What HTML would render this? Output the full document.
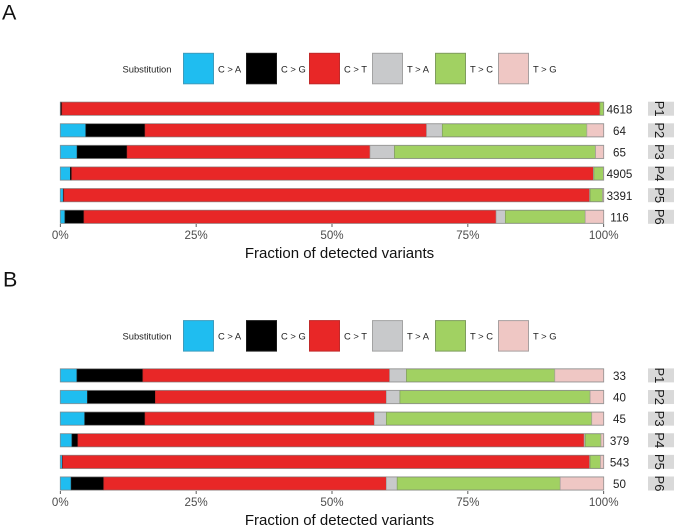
<!DOCTYPE html>
<html>
<head>
<meta charset="utf-8">
<style>
html,body{margin:0;padding:0;background:#fff;}
svg{display:block;font-family:"Liberation Sans",sans-serif;}
</style>
</head>
<body>
<svg id="fig" width="675" height="527" viewBox="0 0 675 527" xmlns="http://www.w3.org/2000/svg"></svg>
<script>
const substitutions = ['C > A','C > G','C > T','T > A','T > C','T > G'];
const patients = ['P1','P2','P3','P4','P5','P6'];
const xTicks = [0,25,50,75,100];
const axisTitle = 'Fraction of detected variants';

// Panel A: percent of detected variants per patient
const aCA = [0.05,4.7,3.1,1.85,0.55,0.86];
const aCG = [0.25,10.9,9.2,0.25,0.1,3.5];
const aCT = [99.0,51.8,44.7,96.0,96.75,75.84];
const aTA = [0.0,2.9,4.5,0.1,0.1,1.7];
const aTC = [0.7,26.6,37.0,1.75,2.3,14.7];
const aTG = [0.0,3.1,1.5,0.05,0.2,3.4];
const aCounts = ['4618','64','65','4905','3391','116'];

// Panel B: percent of detected variants per patient
const bCA = [3.07,5.0,4.5,2.15,0.37,2.0];
const bCG = [12.13,12.5,11.1,1.1,0.06,6.0];
const bCT = [45.4,42.5,42.2,93.15,96.97,52.0];
const bTA = [3.1,2.5,2.2,0.2,0.1,2.0];
const bTC = [27.3,35.0,37.8,2.9,1.9,30.0];
const bTG = [9.0,2.5,2.2,0.5,0.6,8.0];
const bCounts = ['33','40','45','379','543','50'];

const fills = ['#1fbdf0','#000000','#e82727','#c8c9cb','#a1d162','#efc7c4'];
const strokes = ['#3d9cbd','#1a1a1a','#c02a2a','#a3a3a3','#7f9c5e','#a8a0a0'];
const svg = document.getElementById('fig');
const NS = 'http://www.w3.org/2000/svg';
function mk(tag, attrs, text){
  const el = document.createElementNS(NS, tag);
  for (const k in attrs) el.setAttribute(k, attrs[k]);
  if (text !== undefined) el.textContent = text;
  svg.appendChild(el);
  return el;
}
const X0 = 60.3, X1 = 603.7;
function xScale(v){ return X0 + (X1 - X0) * v / 100; }

function panel(key, letter, letterY, legendY, barTop, axisY, series, counts){
  const L = mk('text',{x:letter==='A'?2:3,y:letterY,'font-size':21.5,fill:'#111'},letter);
  
  

  const lt = mk('text',{x:122.5,y:legendY+19,'font-size':9.4,fill:'#222'},'Substitution');
  
  
  substitutions.forEach(function(s,i){
    const lx = 183.5 + i*63;
    const r = mk('rect',{x:lx,y:legendY,width:30,height:30.5,fill:fills[i],stroke:strokes[i],'stroke-width':1});
    
    
    const t = mk('text',{x:lx+34.5,y:legendY+19,'font-size':9.4,fill:'#222'},s);
    
    
  });

  patients.forEach(function(p,row){
    const y = barTop + row*21.62;
    const h = 12.8;
    let cum = 0;
    series.forEach(function(arr,i){
      const v = arr[row];
      const a = xScale(cum), b = xScale(cum+v);
      cum += v;
      if (v <= 0) return;
      const r = mk('rect',{x:a,y:y,width:b-a,height:h,fill:fills[i],stroke:strokes[i],'stroke-width':0.7});
      
      
    });
    const frame = mk('rect',{x:X0,y:y-0.3,width:X1-X0,height:h+0.6,fill:'none',stroke:'#8e8e8e','stroke-width':0.8,opacity:0.75});
    
    
    const c = mk('text',{x:619.5,y:y+11,'font-size':11.6,fill:'#222','text-anchor':'middle'},counts[row]);
    
    
    const st = mk('rect',{x:648,y:y-0.6,width:26,height:14,fill:'#d9d9d9'});
    
    
    const cy = y + 6.4;
    const tl = mk('text',{x:0,y:0,'font-size':13,fill:'#1a1a1a','text-anchor':'middle',transform:'translate(655,'+cy+') rotate(90)'},p);
    
    
  });

  xTicks.forEach(function(t){
    const x = xScale(t);
    const tk = mk('line',{x1:x,x2:x,y1:axisY,y2:axisY+3,stroke:'#333','stroke-width':0.8});
    
    
    const lb = mk('text',{x:x,y:axisY+15,'font-size':11.6,fill:'#4d4d4d','text-anchor':'middle'},t+'%');
    
    
  });
  const at = mk('text',{x:339.5,y:axisY+34,'font-size':15,fill:'#111','text-anchor':'middle'},axisTitle);
  
  
}

panel('a','A',19.5,53.3,102.3,224,[aCA,aCG,aCT,aTA,aTC,aTG],aCounts);
panel('b','B',286.5,320.6,369,491,[bCA,bCG,bCT,bTA,bTC,bTG],bCounts);
</script>
</body>
</html>
